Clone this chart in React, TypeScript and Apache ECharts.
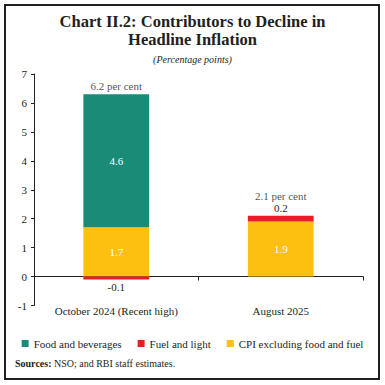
import React, { useEffect, useRef } from "react";
import * as echarts from "echarts";

const categories = ["October 2024 (Recent high)", "August 2025"];
const foodBeverages: (number | null)[] = [4.6, null];
const fuelLight = [-0.1, 0.2];
const cpiExFoodFuel = [1.7, 1.9];
const headline = [6.2, 2.1];
const yTicks = { min: -1, max: 7, interval: 1 };

const FONT = "Liberation Serif";
const DARK = "#231f20";
const GREEN = "#1a8b77";
const RED = "#ec1c24";
const YELLOW = "#fdc010";

export default function App() {
  const ref = useRef<HTMLDivElement>(null);
  useEffect(() => {
    if (!ref.current) return;
    const chart = echarts.init(ref.current, undefined, { renderer: "svg" });
    const stackTop = categories.map((_, i) =>
      [foodBeverages[i], fuelLight[i], cpiExFoodFuel[i]].reduce(
        (s: number, v) => s + (v != null && v > 0 ? v : 0),
        0
      )
    );
    const insideLabel = {
      show: true,
      position: "inside" as const,
      color: "#ffffff",
      fontFamily: FONT,
      fontSize: 11,
      formatter: (p: any) => Number(p.value).toFixed(1),
    };
    chart.setOption({
      animation: false,
      textStyle: { fontFamily: FONT, color: DARK },
      grid: { left: 34, right: 22, top: 74, bottom: 79.5, containLabel: false },
      legend: {
        data: ["Food and beverages", "Fuel and light", "CPI excluding food and fuel"],
        left: "center",
        top: 333,
        icon: "rect",
        itemWidth: 7,
        itemHeight: 7,
        itemGap: 16,
        textStyle: { fontFamily: FONT, fontSize: 11, color: DARK },
      },
      xAxis: {
        type: "category",
        data: categories,
        axisLine: { onZero: true, lineStyle: { color: DARK, width: 1 } },
        axisTick: { show: true, length: 4, lineStyle: { color: DARK } },
        axisLabel: { margin: 0, fontFamily: FONT, fontSize: 11, color: DARK },
      },
      yAxis: {
        type: "value",
        min: yTicks.min,
        max: yTicks.max,
        interval: yTicks.interval,
        axisLine: { show: true, lineStyle: { color: DARK, width: 1 } },
        axisTick: { show: true, length: 3, lineStyle: { color: DARK } },
        axisLabel: { margin: 7, fontFamily: FONT, fontSize: 11, color: DARK },
        splitLine: { show: false },
      },
      series: [
        {
          name: "CPI excluding food and fuel",
          type: "bar",
          stack: "total",
          barWidth: "40%",
          itemStyle: { color: YELLOW },
          label: insideLabel,
          data: cpiExFoodFuel,
        },
        {
          name: "Food and beverages",
          type: "bar",
          stack: "total",
          barWidth: "40%",
          itemStyle: { color: GREEN },
          label: insideLabel,
          data: foodBeverages,
        },
        {
          name: "Fuel and light",
          type: "bar",
          stack: "total",
          barWidth: "40%",
          itemStyle: { color: RED },
          data: fuelLight.map((v) => ({
            value: v,
            label: {
              show: true,
              position: v < 0 ? "bottom" : "top",
              distance: 2,
              color: DARK,
              fontFamily: FONT,
              fontSize: 11,
              formatter: (p: any) => Number(p.value).toFixed(1),
            },
          })),
        },
        {
          name: "Headline",
          type: "scatter",
          symbolSize: 0,
          silent: true,
          data: headline.map((h, i) => ({
            value: stackTop[i],
            label: {
              show: true,
              position: "top",
              distance: 3,
              offset: [0, i === 1 ? -11 : 0],
              color: DARK,
              fontFamily: FONT,
              fontSize: 11,
              formatter: () => `${h.toFixed(1)} per cent`,
            },
          })),
        },
      ],
      graphic: [
        {
          type: "rect",
          shape: { x: 5, y: 5, width: 374, height: 374 },
          style: { fill: "none", stroke: DARK, lineWidth: 2 },
          silent: true,
        },
        {
          type: "text",
          x: 192.5,
          y: 12,
          style: {
            text: "Chart II.2: Contributors to Decline in\nHeadline Inflation",
            align: "center",
            verticalAlign: "top",
            font: `bold 16.5px "${FONT}"`,
            lineHeight: 18,
            fill: DARK,
          },
        },
        {
          type: "text",
          x: 192.5,
          y: 54,
          style: {
            text: "(Percentage points)",
            align: "center",
            verticalAlign: "top",
            font: `italic 10px "${FONT}"`,
            fill: DARK,
          },
        },
        {
          type: "text",
          left: 15,
          top: 358,
          style: {
            text: "{b|Sources:} NSO; and RBI staff estimates.",
            rich: {
              b: { fontFamily: FONT, fontWeight: "bold", fontSize: 10, fill: DARK },
            },
            font: `10px "${FONT}"`,
            fill: DARK,
          },
        },
      ],
    });
    return () => chart.dispose();
  }, []);
  return (
    <div
      ref={ref}
      style={{ position: "fixed", left: 0, top: 0, width: 385, height: 385, background: "#fff" }}
    />
  );
}
